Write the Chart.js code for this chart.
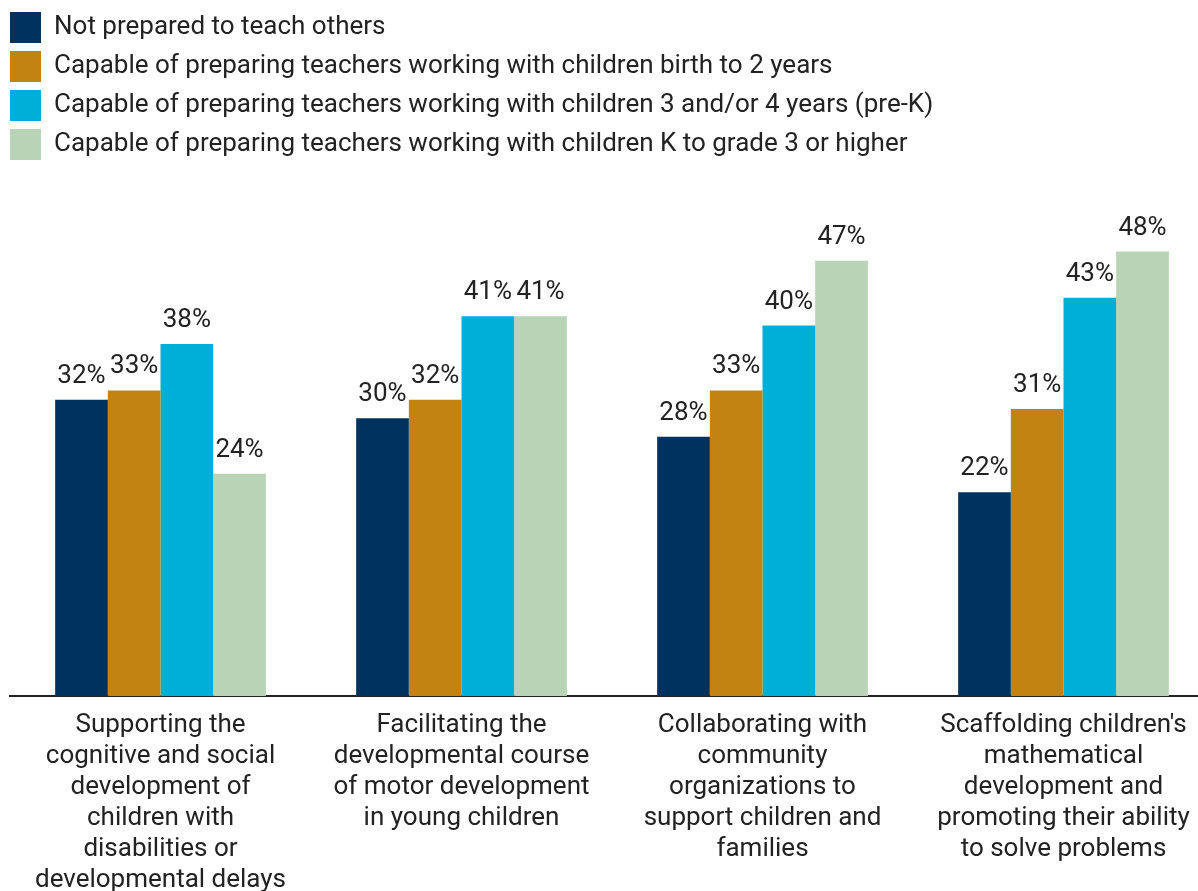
<!DOCTYPE html>
<html>
<head>
<meta charset="utf-8">
<script src="https://cdn.jsdelivr.net/npm/chart.js@4.4.1/dist/chart.umd.min.js"></script>
<style>
  html, body { margin: 0; padding: 0; background: #fff; overflow: hidden; }
  #wrap { position: relative; width: 1214px; height: 891px; }
</style>
</head>
<body>
<div id="wrap"><canvas id="prepChart"></canvas></div>
<script>
const categories = [
    ['Supporting the', 'cognitive and social', 'development of', 'children with', 'disabilities or', 'developmental delays'],
    ['Facilitating the', 'developmental course', 'of motor development', 'in young children'],
    ['Collaborating with', 'community', 'organizations to', 'support children and', 'families'],
    ["Scaffolding children's", 'mathematical', 'development and', 'promoting their ability', 'to solve problems']
];

const seriesNames = [
    'Not prepared to teach others',
    'Capable of preparing teachers working with children birth to 2 years',
    'Capable of preparing teachers working with children 3 and/or 4 years (pre-K)',
    'Capable of preparing teachers working with children K to grade 3 or higher'
];

const notPrepared = [32, 30, 28, 22];
const birthTo2 = [33, 32, 33, 31];
const preK = [38, 41, 40, 43];
const kTo3 = [24, 41, 47, 48];

const colors = ['#00325f', '#c38311', '#00afd8', '#b9d3b7'];

const textColor = '#222';
const fontFamily = 'Roboto, "Noto Sans", sans-serif';

// value labels above each bar
const barLabels = {
    id: 'barLabels',
    afterDatasetsDraw(chart) {
        const ctx = chart.ctx;
        ctx.save();
        ctx.font = '26px ' + fontFamily;
        ctx.fillStyle = textColor;
        ctx.textAlign = 'center';
        ctx.textBaseline = 'alphabetic';
        chart.data.datasets.forEach((ds, i) => {
            chart.getDatasetMeta(i).data.forEach((bar, j) => {
                ctx.fillText(ds.data[j] + '%', bar.x, bar.y - 17);
            });
        });
        ctx.restore();
    }
};

// one legend item per row, and a fixed legend block height
const legendHeight = {
    id: 'legendHeight',
    beforeInit(chart) {
        const fit = chart.legend.fit;
        chart.legend.fit = function () {
            this.maxWidth = Math.min(this.maxWidth, 950);
            fit.bind(this)();
            this.height = 229;
        };
    }
};

const ctx = document.getElementById('prepChart').getContext('2d');

const myChart = new Chart(ctx, {
    type: 'bar',
    data: {
        labels: categories,
        datasets: [notPrepared, birthTo2, preK, kTo3].map((values, i) => ({
            label: seriesNames[i],
            data: values,
            backgroundColor: colors[i],
            borderWidth: 0,
            barPercentage: 1,
            categoryPercentage: 0.7
        }))
    },
    options: {
        responsive: true,
        maintainAspectRatio: false,
        animation: false,
        layout: { padding: { top: 4, left: 2, right: 0, bottom: 0 } },
        plugins: {
            legend: {
                display: true,
                position: 'top',
                align: 'start',
                labels: {
                    boxWidth: 31,
                    boxHeight: 31,
                    padding: 8,
                    color: textColor,
                    font: { family: fontFamily, size: 26 }
                }
            },
            tooltip: { enabled: false }
        },
        scales: {
            x: {
                grid: { display: false },
                border: { display: true, color: '#222', width: 2 },
                ticks: {
                    color: textColor,
                    autoSkip: false,
                    maxRotation: 0,
                    padding: 6,
                    font: { family: fontFamily, size: 26, lineHeight: 1.19 }
                },
                afterFit: (scale) => { scale.height = 195; }
            },
            y: {
                min: 0,
                max: 50,
                grid: { display: false },
                border: { display: false },
                ticks: { display: false },
                afterFit: (scale) => { scale.width = 8; }
            }
        }
    },
    plugins: [barLabels, legendHeight]
});
</script>
</body>
</html>
